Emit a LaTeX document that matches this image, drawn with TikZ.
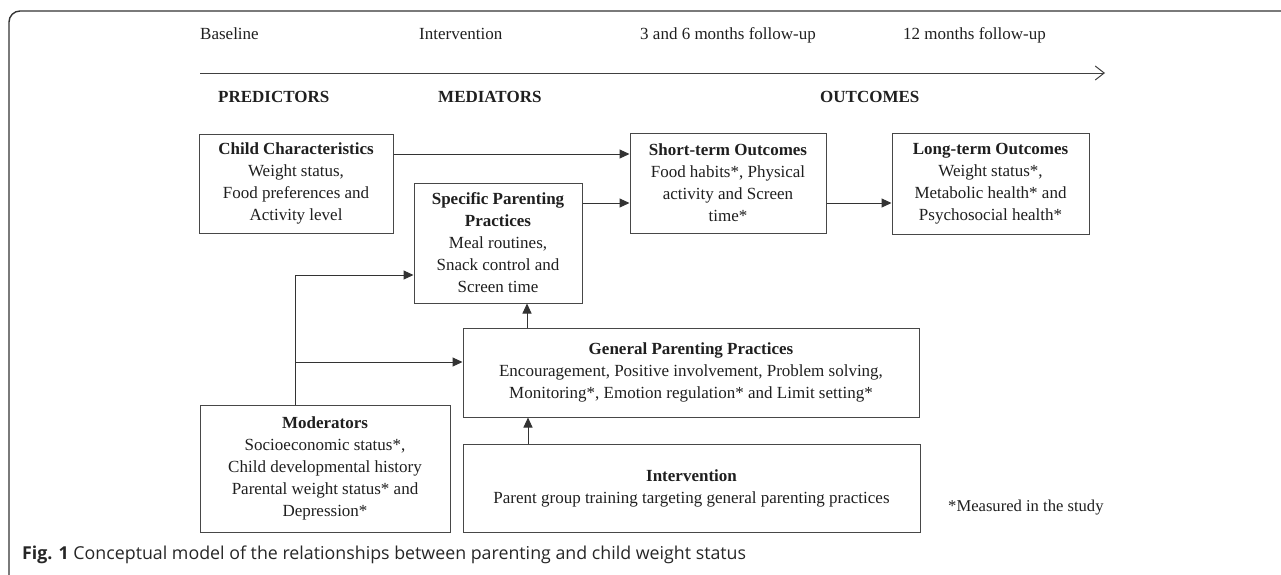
\documentclass[tikz,border=0pt]{standalone}
\usepackage{fontspec}
\setmainfont{Liberation Serif}
\newfontfamily\capfont{Open Sans}
\usetikzlibrary{arrows.meta}
\newcommand{\mainfs}{\fontsize{17}{22}\selectfont}
\begin{document}
\begin{tikzpicture}[x=1pt,y=-1pt,
  box/.style={draw=black!72, line width=1pt, align=center, inner sep=0pt, font=\mainfs, text=black!88},
  lbl/.style={anchor=base west, inner sep=0pt, font=\mainfs, text=black!88},
  head/.style={lbl, font=\mainfs\bfseries},
  arr/.style={-{Triangle[length=10pt,width=9pt]}, line width=1pt, draw=black!80},
  tl/.style={-{Straight Barb[length=9pt,width=14pt]}, line width=1pt, draw=black!75}]
\useasboundingbox (0,0) rectangle (1281,574);
% frame
\draw[black!80, line width=1.4pt, rounded corners=11pt] (9,580) -- (9,11) -- (1290,11);
% timeline
\node[lbl] (tb) at (200,39.5) {Baseline};
\node[lbl] (ti) at (419,39.5) {Intervention};
\node[lbl] (t36) at (640,39.5) {3 and 6 months follow-up};
\node[lbl] (t12) at (903,39.5) {12 months follow-up};
\coordinate (t0) at (200,73);
\coordinate (t1) at (1105,73);
\draw[tl] (t0) -- (t1);
% headings
\node[head] (hp) at (218,102) {PREDICTORS};
\node[head] (hm) at (438,102) {MEDIATORS};
\node[head] (ho) at (820,102) {OUTCOMES};
% boxes
\node[box, minimum width=194pt, minimum height=99pt] (cc) at (296,183.5)
  {\textbf{Child Characteristics}\\Weight status,\\Food preferences and\\Activity level};
\node[box, minimum width=168pt, minimum height=120pt] (sp) at (498,243)
  {\textbf{Specific Parenting}\\\textbf{Practices}\\Meal routines,\\Snack control and\\Screen time};
\node[box, minimum width=196pt, minimum height=100pt] (so) at (728,183)
  {\textbf{Short-term Outcomes}\\Food habits*, Physical\\activity and Screen\\time*};
\node[box, minimum width=197pt, minimum height=101pt] (lo) at (990.5,183.5)
  {\textbf{Long-term Outcomes}\\Weight status*,\\Metabolic health* and\\Psychosocial health*};
\node[box, minimum width=456pt, minimum height=89pt] (gp) at (691,372.5)
  {\textbf{General Parenting Practices}\\Encouragement, Positive involvement, Problem solving,\\Monitoring*, Emotion regulation* and Limit setting*};
\node[box, minimum width=457pt, minimum height=88pt] (iv) at (691.5,488)
  {\textbf{Intervention}\\Parent group training targeting general parenting practices};
\node[box, minimum width=250pt, minimum height=127pt] (md) at (325,468.5)
  {\textbf{Moderators}\\Socioeconomic status*,\\Child developmental history\\Parental weight status* and\\Depression*};
\node[lbl, font=\fontsize{16.6}{20}\selectfont] (ms) at (948,511) {*Measured in the study};
% connectors
\draw[arr] (cc.east |- 0,154) -- (so.west |- 0,154);
\draw[arr] (sp.east |- 0,203) -- (so.west |- 0,203);
\draw[arr] (so.east |- 0,203) -- (lo.west |- 0,203);
\draw[arr] (md.north -| 295,0) |- (sp.west |- 0,275);
\coordinate (br) at (295,362);
\draw[arr] (br) -- (gp.west |- br);
\draw[arr] (gp.north -| 527,0) -- (sp.south -| 527,0);
\draw[arr] (iv.north -| 528,0) -- (gp.south -| 528,0);
% caption
\node[anchor=base west, inner sep=0pt, font=\capfont\fontsize{17.8}{21}\selectfont, text=black!85] (cap) at (22,559)
  {\textbf{Fig. 1} Conceptual model of the relationships between parenting and child weight status};
\end{tikzpicture}
\end{document}
